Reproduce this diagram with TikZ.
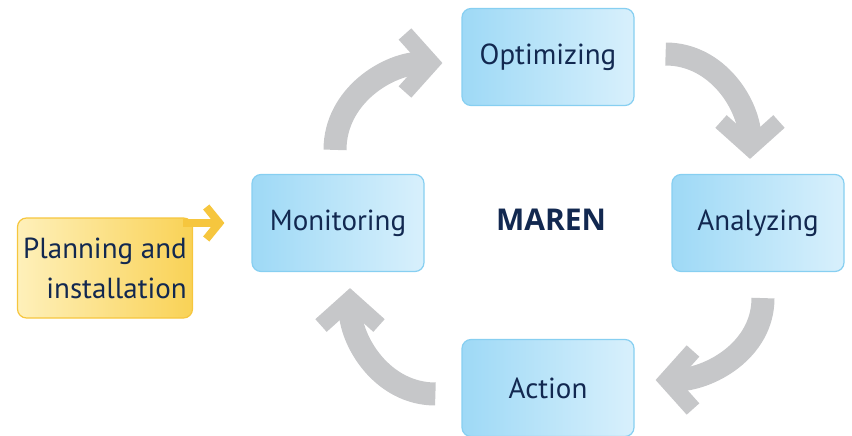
\documentclass[tikz,border=0pt]{standalone}
\usepackage{fontspec}
\setmainfont{PT Sans}
\newfontfamily\marenfont{Open Sans}
\usepackage{xcolor}
\usepackage{tikz}
\usetikzlibrary{arrows.meta}

\definecolor{boxedge}{RGB}{135,207,241}
\definecolor{boxleft}{RGB}{158,217,246}
\definecolor{boxright}{RGB}{216,240,252}
\definecolor{planedge}{RGB}{246,198,62}
\definecolor{planleft}{RGB}{254,240,186}
\definecolor{planright}{RGB}{249,210,86}
\definecolor{cyclegray}{RGB}{198,199,201}
\definecolor{navytext}{RGB}{18,40,80}

\begin{document}
\begin{tikzpicture}[x=1pt, y=-1pt,
    stagebox/.style={draw=boxedge, line width=1.2pt, rounded corners=9pt,
        left color=boxleft, right color=boxright, text=navytext,
        minimum width=172pt, minimum height=97pt,
        font=\fontsize{29}{31}\selectfont},
    planbox/.style={draw=planedge, line width=1.2pt, rounded corners=9pt,
        left color=planleft, right color=planright, text=navytext,
        minimum width=175pt, minimum height=100pt, align=right,
        font=\fontsize{29}{40}\selectfont},
    cyclearrow/.style={draw=cyclegray, line width=23pt,
        -{Straight Barb[length=26pt, width=58pt, line width=17pt, line cap=butt, line join=miter]}},
    planarrow/.style={draw=planedge, line width=8pt,
        -{Straight Barb[length=13pt, width=32pt, line width=8pt, line cap=butt, line join=miter]}}]
        \useasboundingbox (0,0) rectangle (852,436);
        % the four stages
        \node[stagebox] (opt) at (548,57) {Optimizing};
        \node[stagebox] (mon) at (338,223) {Monitoring};
        \node[stagebox] (ana) at (758,223) {Analyzing};
        \node[stagebox] (act) at (548,388) {Action};
        \node[text=navytext, font=\marenfont\fontsize{30}{31}\selectfont\bfseries] (maren) at (551,220) {MAREN};
        % cycle
        \draw[cyclearrow] ([shift={(-3pt,24pt)}]mon.north) to[out=90, in=180] ([shift={(-19pt,-6pt)}]opt.west);
        \draw[cyclearrow] ([shift={(31pt,3pt)}]opt.east) to[out=0, in=90] ([shift={(-8pt,15pt)}]ana.north);
        \draw[cyclearrow] ([shift={(5pt,-26pt)}]ana.south) to[out=-90, in=0] ([shift={(21pt,8pt)}]act.east);
        \draw[cyclearrow] ([shift={(-26pt,-6pt)}]act.west) to[out=180, in=-90] ([shift={(12pt,-16pt)}]mon.south);
        % entry
        \node[planbox] (plan) at (105,268) {Planning and\\installation};
        \draw[planarrow, shorten >=27pt] ([xshift=-10pt]plan.north east |- mon.west) -- (mon.west);
\end{tikzpicture}
\end{document}
